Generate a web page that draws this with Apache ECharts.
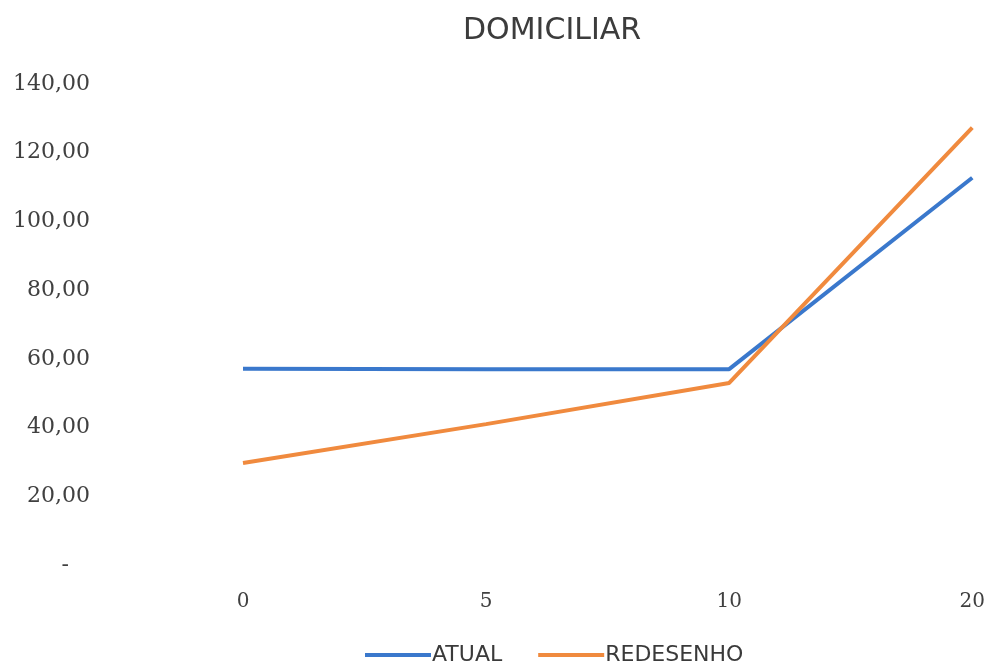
<!DOCTYPE html>
<html>
<head>
<meta charset="utf-8">
<script src="https://cdn.jsdelivr.net/npm/echarts@6/dist/echarts.min.js"></script>
<style>
  html, body { margin: 0; padding: 0; background: #fff; }
  #chart { width: 988px; height: 663px; }
</style>
</head>
<body>
<div id="chart"></div>
<script>
// Categories along the x axis
const categories = ['0', '5', '10', '20'];
// Series values
const atual = [57.1, 57.0, 57.0, 112.7];
const redesenho = [29.7, 41.0, 53.0, 127.3];
// Y axis range
const yMin = 0;
const yMax = 140;
const yStep = 20;

const chart = echarts.init(document.getElementById('chart'));

// Accounting-style number format: zero shown as a dash
function fmt(v) {
  if (v === 0) return '-   ';
  return v.toFixed(2).replace('.', ',');
}

chart.setOption({
  animation: false,
  backgroundColor: '#ffffff',
  title: {
    text: 'DOMICILIAR',
    left: 458,
    top: 11,
    textStyle: {
      fontFamily: 'DejaVu Sans',
      fontWeight: 'normal',
      fontSize: 30,
      color: '#3c3c3c'
    }
  },
  legend: {
    left: 360,
    top: 639,
    icon: 'rect',
    itemWidth: 66,
    itemHeight: 4,
    itemGap: 36,
    textStyle: {
      fontFamily: 'DejaVu Sans',
      fontSize: 22,
      color: '#3a3a3a',
      padding: [0, 0, 0, -4]
    },
    data: ['ATUAL', 'REDESENHO']
  },
  grid: {
    left: 243,
    right: 15,
    top: 84,
    bottom: 98,
    containLabel: false
  },
  xAxis: {
    type: 'category',
    data: categories,
    boundaryGap: false,
    axisLine: { show: false },
    axisTick: { show: false },
    axisLabel: {
      margin: 27,
      fontFamily: 'DejaVu Serif',
      fontSize: 20,
      color: '#404040'
    },
    splitLine: { show: false }
  },
  yAxis: {
    type: 'value',
    min: yMin,
    max: yMax,
    interval: yStep,
    axisLine: { show: false },
    axisTick: { show: false },
    splitLine: { show: false },
    axisLabel: {
      margin: 153,
      fontFamily: 'DejaVu Serif',
      fontSize: 22,
      color: '#404040',
      formatter: fmt
    }
  },
  series: [
    {
      name: 'ATUAL',
      type: 'line',
      data: atual,
      symbol: 'none',
      lineStyle: { width: 4, color: '#3a78cc' },
      itemStyle: { color: '#3a78cc' }
    },
    {
      name: 'REDESENHO',
      type: 'line',
      data: redesenho,
      symbol: 'none',
      lineStyle: { width: 4, color: '#f08a3e' },
      itemStyle: { color: '#f08a3e' }
    }
  ]
});
</script>
</body>
</html>
